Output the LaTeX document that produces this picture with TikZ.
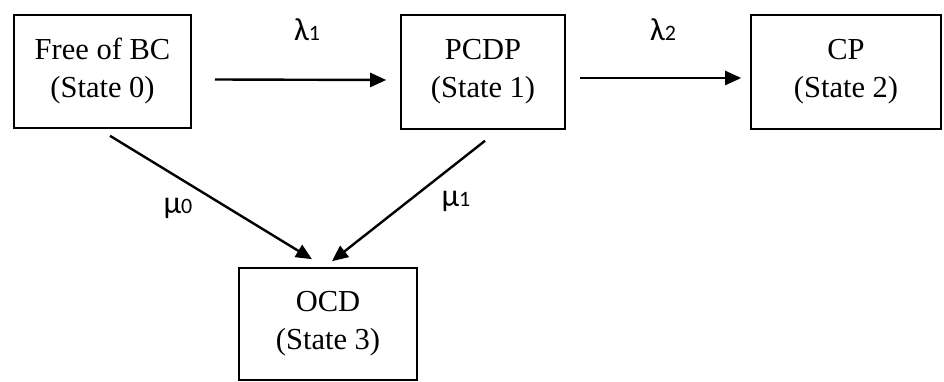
\documentclass[tikz,border=0pt]{standalone}
\usepackage{fontspec}
\setmainfont{Liberation Serif}
\newfontfamily\grk{Carlito}
\usetikzlibrary{arrows.meta,calc}
\newcommand{\glab}[2]{{\grk\fontsize{32}{32}\selectfont #1\fontsize{22}{22}\selectfont #2}}
\begin{document}
\begin{tikzpicture}[x=1pt,y=-1pt,
  box/.style={draw,line width=1.6pt,align=center,inner sep=0pt,
    font=\fontsize{30.5}{38}\selectfont},
  arr/.style={line width=2.4pt,-{Triangle[length=16pt,width=14pt]}}]
\useasboundingbox (0,0) rectangle (944,382);
\node[box,minimum width=177pt,minimum height=113pt] (b0) at (102.5,71.5) {Free of BC\\(State 0)};
\node[box,minimum width=164pt,minimum height=114pt] (b1) at (483,72) {PCDP\\(State 1)};
\node[box,minimum width=190pt,minimum height=114pt] (b2) at (846,72) {CP\\(State 2)};
\node[box,minimum width=178pt,minimum height=112pt] (b3) at (328,324) {OCD\\(State 3)};
\draw[arr] ($(b0.east)+(23,8)$) -- ($(b1.west)+(-14,8)$);
\draw[arr] ($(b1.east)+(14,6)$) -- ($(b2.west)+(-9,6)$);
\draw[arr] ($(b0.south)+(7.5,7)$) -- ($(b3.north)+(-16,-8)$);
\draw[arr] ($(b1.south)+(2,11)$) -- ($(b3.north)+(4,-6)$);
\node (l1) at (307,30) {\glab{λ}{1}};
\node (l2) at (663,30) {\glab{λ}{2}};
\node (m0) at (178,208) {\glab{μ}{0}};
\node (m1) at (456,201) {\glab{μ}{1}};
\end{tikzpicture}
\end{document}
